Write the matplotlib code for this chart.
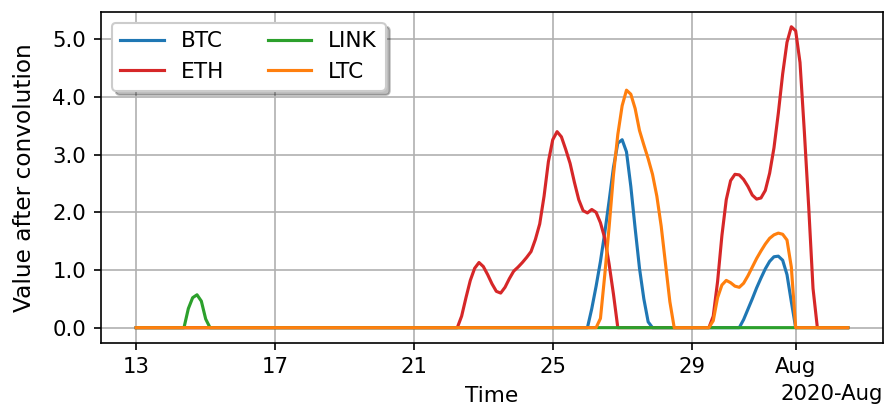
import pandas as pd
import matplotlib
matplotlib.use("Agg")
import matplotlib.pyplot as plt
import matplotlib.dates as mdates
from matplotlib.ticker import MultipleLocator, FormatStrFormatter

# 3-hourly sampling grid of the convolved signals
grid_start = "2020-07-13 00:00"
grid_end = "2020-08-02 12:00"
step = "3h"

coins = ["BTC", "ETH", "LINK", "LTC"]
colors = ["#1f77b4", "#d62728", "#2ca02c", "#ff7f0e"]

# Non-zero stretches of each series: (first timestamp, values every 3 h)
btc_segments = [
    ("2020-07-26 00:00", [0.0, 0.33, 0.72, 1.15, 1.65, 2.20, 2.78, 3.20,
                          3.26, 3.05, 2.45, 1.72, 1.03, 0.50, 0.10, 0.0]),
    ("2020-07-30 09:00", [0.0, 0.14, 0.32, 0.50, 0.69, 0.86, 1.02, 1.15,
                          1.23, 1.24, 1.17, 0.92, 0.45, 0.0]),
]
eth_segments = [
    ("2020-07-22 06:00", [0.0, 0.20, 0.52, 0.82, 1.03, 1.13, 1.06, 0.92,
                          0.76, 0.63, 0.60, 0.70, 0.85, 0.98, 1.05, 1.13,
                          1.22, 1.32, 1.53, 1.80, 2.28, 2.88, 3.26, 3.40,
                          3.31, 3.09, 2.85, 2.52, 2.22, 2.03, 1.99, 2.05,
                          2.00, 1.82, 1.55, 1.10, 0.58, 0.0]),
    ("2020-07-29 12:00", [0.0, 0.20, 0.80, 1.60, 2.22, 2.55, 2.66, 2.65,
                          2.57, 2.45, 2.30, 2.23, 2.25, 2.38, 2.68, 3.12,
                          3.72, 4.40, 4.95, 5.22, 5.15, 4.60, 3.40, 2.10,
                          0.68, 0.0]),
]
link_segments = [
    ("2020-07-14 09:00", [0.0, 0.33, 0.52, 0.57, 0.46, 0.15, 0.0]),
]
ltc_segments = [
    ("2020-07-26 06:00", [0.0, 0.16, 0.92, 1.75, 2.65, 3.35, 3.85, 4.12,
                          4.05, 3.80, 3.42, 3.17, 2.93, 2.66, 2.28, 1.76,
                          1.10, 0.45, 0.0]),
    ("2020-07-29 12:00", [0.0, 0.12, 0.52, 0.74, 0.82, 0.78, 0.72, 0.70,
                          0.77, 0.90, 1.05, 1.20, 1.33, 1.45, 1.55, 1.61,
                          1.64, 1.62, 1.52, 1.05, 0.0]),
]
segments = [btc_segments, eth_segments, link_segments, ltc_segments]

times = pd.date_range(grid_start, grid_end, freq=step)


def build_series(segs):
    s = pd.Series(0.0, index=times)
    for start, vals in segs:
        idx = pd.date_range(start, periods=len(vals), freq=step)
        s.loc[idx] = vals
    return s


W, H, DPI = 889, 407, 150
fig = plt.figure(figsize=(W / DPI, H / DPI), dpi=DPI)
ax = fig.add_axes([100.7 / W, (H - 342.7) / H, (883.3 - 100.7) / W, (342.7 - 11.7) / H])

for coin, color, segs in zip(coins, colors, segments):
    s = build_series(segs)
    ax.plot(s.index, s.values, color=color, lw=1.5, label=coin)

locator = mdates.DayLocator(bymonthday=range(1, 32, 4))
ax.xaxis.set_major_locator(locator)
ax.xaxis.set_major_formatter(mdates.ConciseDateFormatter(locator))
ax.yaxis.set_major_locator(MultipleLocator(1.0))
ax.yaxis.set_major_formatter(FormatStrFormatter("%.1f"))

ax.tick_params(labelsize=10.2)
ax.xaxis.get_offset_text().set_fontsize(10.2)
ax.grid(True)
ax.set_xlabel("Time", fontsize=10.4)
ax.set_ylabel("Value after convolution", fontsize=11.2, labelpad=8)

ax.legend(loc="upper left", ncol=2, fontsize=10.4,
          shadow={"color": "k", "alpha": 0.25})

fig.savefig("out.png", dpi=DPI)
